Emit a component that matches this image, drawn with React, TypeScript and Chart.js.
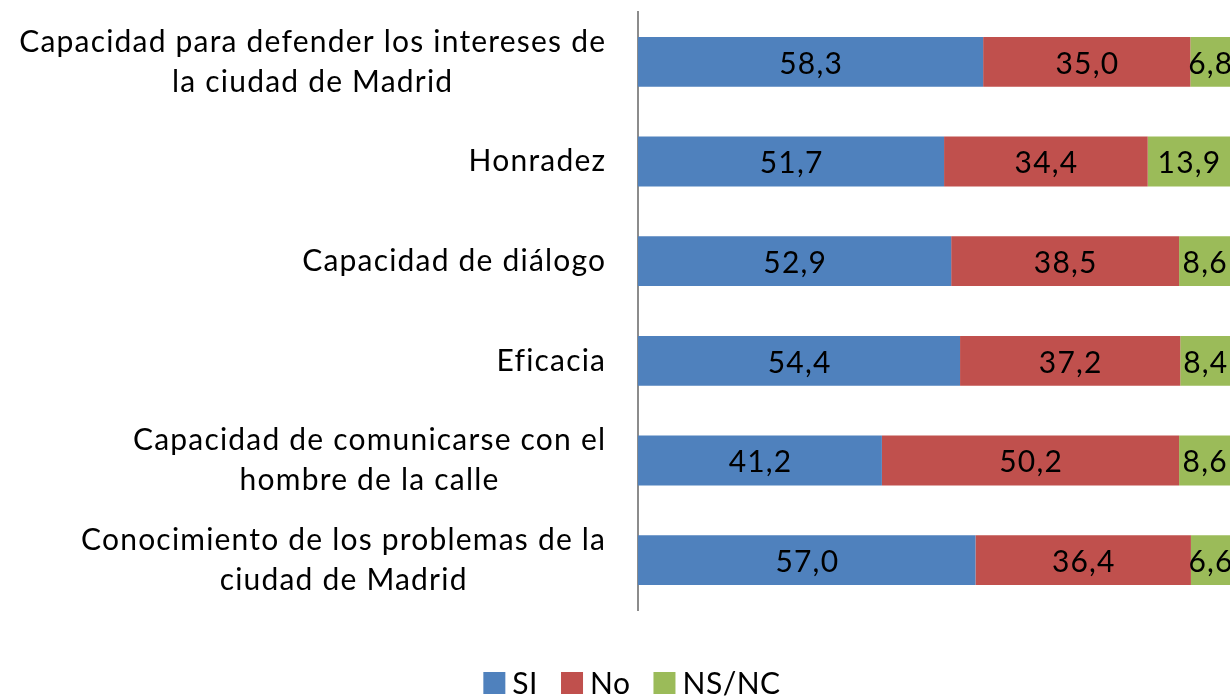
import { useEffect, useRef } from "react";
import { Chart, registerables } from "chart.js";

Chart.register(...registerables);

const categories: string[][] = [
  ["Capacidad para defender los intereses de", "la ciudad de Madrid"],
  ["Honradez"],
  ["Capacidad de diálogo"],
  ["Eficacia"],
  ["Capacidad de comunicarse con el", "hombre de la calle"],
  ["Conocimiento de los problemas de la", "ciudad de Madrid"],
];
const seriesNames = ["SI", "No", "NS/NC"];
const siValues = [58.3, 51.7, 52.9, 54.4, 41.2, 57.0];
const noValues = [35.0, 34.4, 38.5, 37.2, 50.2, 36.4];
const nsncValues = [6.8, 13.9, 8.6, 8.4, 8.6, 6.6];
const colors = ["#4F81BD", "#C0504D", "#9BBB59"];

const FONT = "Lato, 'Open Sans', sans-serif";
const LABEL_SIZE = 30;
const VALUE_SIZE = 30;
const SPACING = 1.2;

const categoryLabelPlugin = {
  id: "categoryLabels",
  afterDraw(chart: any) {
    const { ctx } = chart;
    const yScale = chart.scales.y;
    const rightX = chart.chartArea.left - 33 + SPACING;
    const lineH = 40;
    ctx.save();
    ctx.font = `${LABEL_SIZE}px ${FONT}`;
    (ctx as any).letterSpacing = `${SPACING}px`;
    ctx.fillStyle = "#000";
    ctx.textAlign = "center";
    ctx.textBaseline = "middle";
    categories.forEach((lines, i) => {
      const cy = yScale.getPixelForTick(i);
      const bw = Math.max(...lines.map((l) => ctx.measureText(l).width));
      const cx = rightX - bw / 2;
      const startY = cy - ((lines.length - 1) * lineH) / 2;
      lines.forEach((l, j) => ctx.fillText(l, cx, startY + j * lineH));
    });
    ctx.restore();
  },
};

const valueLabelPlugin = {
  id: "valueLabels",
  afterDatasetsDraw(chart: any) {
    const { ctx } = chart;
    ctx.save();
    ctx.font = `${VALUE_SIZE}px ${FONT}`;
    (ctx as any).letterSpacing = `${SPACING}px`;
    ctx.fillStyle = "#000";
    ctx.textAlign = "center";
    ctx.textBaseline = "middle";
    chart.data.datasets.forEach((ds: any, di: number) => {
      const meta = chart.getDatasetMeta(di);
      meta.data.forEach((bar: any, i: number) => {
        const v = ds.data[i] as number;
        const right = Math.min(bar.x, chart.chartArea.right);
        const x = (bar.base + right) / 2 + SPACING / 2;
        ctx.fillText(v.toFixed(1).replace(".", ","), x, bar.y + 2);
      });
    });
    ctx.restore();
  },
};

const legendPlugin = {
  id: "customLegend",
  afterDraw(chart: any) {
    const { ctx } = chart;
    const box = 22;
    const gapText = 7;
    const gapItem = 23;
    const cy = 683;
    ctx.save();
    ctx.font = `${LABEL_SIZE}px ${FONT}`;
    (ctx as any).letterSpacing = "0.5px";
    ctx.textBaseline = "middle";
    ctx.textAlign = "left";
    const widths = chart.data.datasets.map(
      (ds: any) => box + gapText + ctx.measureText(ds.label).width
    );
    const total =
      widths.reduce((a: number, b: number) => a + b, 0) +
      gapItem * (widths.length - 1);
    let x = 632 - total / 2;
    chart.data.datasets.forEach((ds: any, i: number) => {
      ctx.fillStyle = ds.backgroundColor;
      ctx.fillRect(x, cy - box / 2, box, box);
      ctx.fillStyle = "#000";
      ctx.fillText(ds.label, x + box + gapText, cy + 1);
      x += widths[i] + gapItem;
    });
    ctx.restore();
  },
};

export default function App() {
  const canvasRef = useRef<HTMLCanvasElement | null>(null);

  useEffect(() => {
    const canvas = canvasRef.current;
    if (!canvas) return;
    const chart = new Chart(canvas, {
      type: "bar",
      data: {
        labels: categories.map((c) => c.join(" ")),
        datasets: [siValues, noValues, nsncValues].map((vals, i) => ({
          label: seriesNames[i],
          data: vals,
          backgroundColor: colors[i],
          borderWidth: 0,
          categoryPercentage: 1,
          barPercentage: 0.5,
        })),
      },
      options: {
        indexAxis: "y",
        responsive: false,
        maintainAspectRatio: false,
        animation: false,
        layout: { padding: { left: 638, top: 12, right: 0, bottom: 88 } },
        plugins: {
          legend: { display: false },
          tooltip: { enabled: false },
          title: { display: false },
        },
        scales: {
          x: {
            stacked: true,
            display: false,
            min: 0,
            max: 100,
          },
          y: {
            stacked: true,
            offset: true,
            ticks: { display: false },
            grid: { display: false, drawTicks: false },
            border: { display: true, color: "#8C8C8C", width: 2 },
            afterFit(scale: any) {
              scale.width = 0;
            },
          },
        },
      },
      plugins: [categoryLabelPlugin, valueLabelPlugin, legendPlugin],
    } as any);
    return () => chart.destroy();
  }, []);

  return (
    <div style={{ position: "absolute", left: 0, top: 0, width: 1230, height: 698, background: "#fff" }}>
      <canvas ref={canvasRef} width={1230} height={698} style={{ display: "block" }} />
    </div>
  );
}
